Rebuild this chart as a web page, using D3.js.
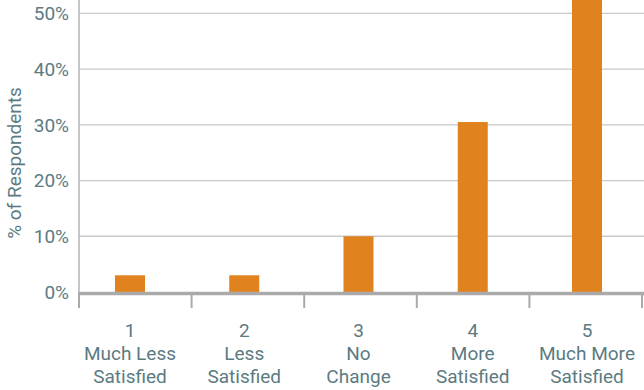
<!DOCTYPE html>
<html><head><meta charset="utf-8">
<script src="https://cdn.jsdelivr.net/npm/d3@7"></script>
<style>
html,body{margin:0;padding:0;background:#fff;}
svg{display:block;}
text{font-family:Roboto,"Noto Sans",sans-serif;fill:#5b7b82;}
</style></head>
<body><svg id="c" width="644" height="390"></svg>
<script>
const categories = ["1","2","3","4","5"];
const categoryLabels = [["1","Much Less","Satisfied"],["2","Less","Satisfied"],["3","No","Change"],["4","More","Satisfied"],["5","Much More","Satisfied"]];
const values = [3, 3, 10, 30.5, 55];
const yTicks = [0, 10, 20, 30, 40, 50];
const yTitle = "% of Respondents";

(function(){
const svg = d3.select("#c");
const left = 79, right = 642, base = 292, plotTop = 0;
const x = d3.scaleBand().domain(categories).range([left, right]).padding(0);
const xc = d3.scalePoint().domain(categories).range([130, 587]);
const y = d3.scaleLinear().domain([0, 52.4]).range([base, plotTop]);
const bw = x.bandwidth(), barW = 30;

svg.append("defs").append("clipPath").attr("id","clip")
  .append("rect").attr("x",left).attr("y",0).attr("width",644-left).attr("height",base);

// gridlines
svg.append("g").selectAll("line").data(yTicks.filter(d=>d>0)).join("line")
  .attr("x1", left).attr("x2", 644).attr("y1", d=>y(d)).attr("y2", d=>y(d))
  .attr("stroke", "#c9c9c9").attr("stroke-width", 1.3);

// y axis line
svg.append("line").attr("x1", left).attr("x2", left).attr("y1", 0).attr("y2", base)
  .attr("stroke", "#b5b5b5").attr("stroke-width", 1.5);

// y tick labels
svg.append("g").selectAll("text").data(yTicks).join("text")
  .attr("x", 69).attr("y", d=>y(d)).attr("dy", "0.36em")
  .attr("text-anchor", "end").attr("font-size", 19)
  .text(d=>d3.format("d")(d)+"%");

// y title
svg.append("text").attr("transform", `translate(21,163) rotate(-90)`)
  .attr("text-anchor","middle").attr("font-size", 19).text(yTitle);

// bars
svg.append("g").attr("clip-path","url(#clip)").selectAll("rect").data(values).join("rect")
  .attr("x", (d,i)=>xc(categories[i]) - barW/2)
  .attr("width", barW)
  .attr("y", d=>y(d)).attr("height", d=>base - y(d))
  .attr("fill", "#e0821e");

// baseline
svg.append("line").attr("x1", left-1).attr("x2", 644).attr("y1", base+1.5).attr("y2", base+1.5)
  .attr("stroke", "#aaaaaa").attr("stroke-width", 3.5);

// ticks at band boundaries
const bounds = categories.map(c=>x(c)).concat([x(categories[categories.length-1]) + bw]);
svg.append("g").selectAll("line").data(bounds).join("line")
  .attr("x1", d=>d).attr("x2", d=>d).attr("y1", base+3).attr("y2", 308)
  .attr("stroke", "#aaaaaa").attr("stroke-width", 2);

// category labels
const lbl = svg.append("g").selectAll("text").data(categoryLabels).join("text")
  .attr("text-anchor","middle").attr("font-size", 19);
lbl.selectAll("tspan").data((d,i)=>d.map(s=>({s, i}))).join("tspan")
  .attr("x", d=>xc(categories[d.i]))
  .attr("y", (d,j)=>337 + j*23)
  .text(d=>d.s);
})();
</script></body></html>
